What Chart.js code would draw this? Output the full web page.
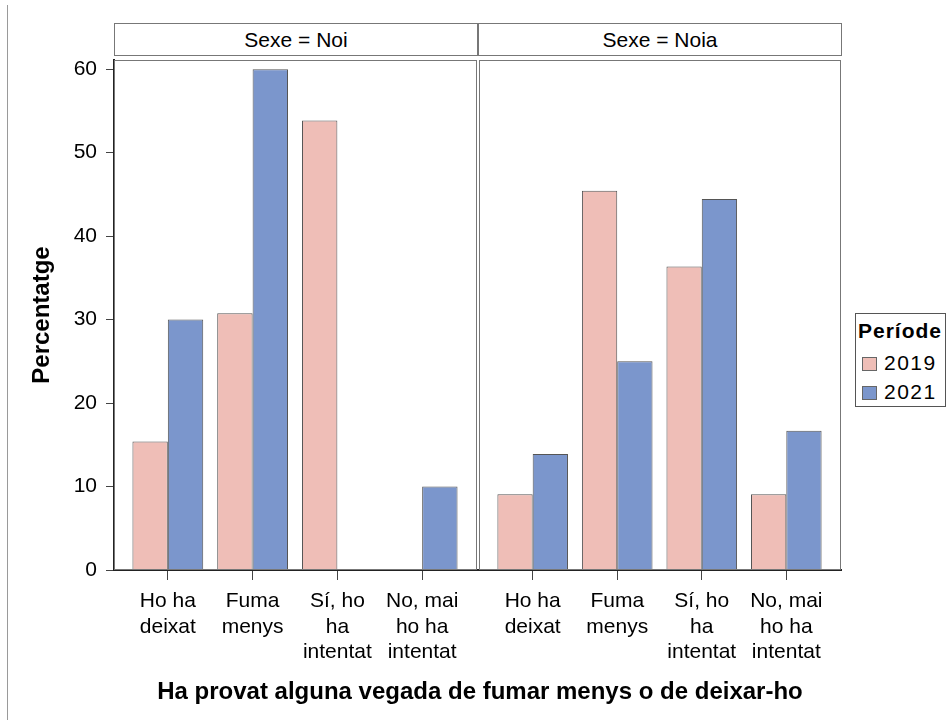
<!DOCTYPE html>
<html>
<head>
<meta charset="utf-8">
<script src="https://cdn.jsdelivr.net/npm/chart.js@4/dist/chart.umd.min.js"></script>
<style>
  body { margin: 0; background: #fff; font-family: "Liberation Sans", Arial, sans-serif; }
  #wrap { position: relative; width: 952px; height: 720px; overflow: hidden; }
  .edge { position: absolute; left: 7px; top: 5px; width: 1px; height: 715px; background: #9a9a9a; }
  .strip { position: absolute; top: 23px; height: 33px; border: 1px solid #777; box-sizing: border-box;
           text-align: center; font-size: 21px; line-height: 32px; color: #000; }
  .xtitle { position: absolute; left: 0; width: 960px; top: 677px; text-align: center;
            font-size: 24px; font-weight: bold; color: #000; }
  .legend { position: absolute; left: 855px; top: 313px; width: 91px; height: 94px;
            border: 1px solid #555; box-sizing: border-box; color: #000; }
  .legend .lt { position: absolute; left: 2px; top: 5px; font-size: 21px; font-weight: bold; letter-spacing: 1px; }
  .legend .it { position: absolute; left: 6px; font-size: 21px; letter-spacing: 1.5px; }
  .legend .sw { display: inline-block; width: 13px; height: 12px; border: 1px solid #666;
                vertical-align: -1px; margin-right: 7px; }
  canvas { position: absolute; top: 0; }
</style>
</head>
<body>
<div id="wrap">
  <div class="edge"></div>
  <div class="strip" style="left:114px;width:364px;">Sexe = Noi</div>
  <div class="strip" style="left:478px;width:364px;">Sexe = Noia</div>
  <canvas id="chartNoi" width="478" height="720" style="left:0;width:478px;height:720px;"></canvas>
  <canvas id="chartNoia" width="380" height="720" style="left:470px;width:380px;height:720px;"></canvas>
  <div class="legend" id="legendBox"></div>
  <div class="xtitle">Ha provat alguna vegada de fumar menys o de deixar-ho</div>
</div>
<script>
// Categories (eix x) i valors en percentatge per període
var categories = [
    ['Ho ha', 'deixat'],
    ['Fuma', 'menys'],
    ['Sí, ho', 'ha', 'intentat'],
    ['No, mai', 'ho ha', 'intentat']
];
var periods = ['2019', '2021'];
var colors = ['#efbeb7', '#7b96cc'];

var noi2019 = [15.38, 30.77, 53.85, 0];
var noi2021 = [30, 60, 0, 10];
var noia2019 = [9.09, 45.45, 36.36, 9.09];
var noia2021 = [13.89, 25, 44.44, 16.67];

var yTicks = [0, 10, 20, 30, 40, 50, 60];
var xTicks = [1, 2, 3, 4];

// Marc del panell (vores superior i dreta incloses)
var panelFrame = {
    id: 'panelFrame',
    afterDraw: function (chart) {
        var a = chart.chartArea;
        var ctx = chart.ctx;
        ctx.save();
        ctx.strokeStyle = '#777';
        ctx.lineWidth = 1;
        ctx.strokeRect(Math.round(a.left) + 0.5, Math.round(a.top) + 0.5,
            Math.round(a.right - a.left) - 1, Math.round(a.bottom - a.top) - 1);
        ctx.restore();
    }
};

function toPoints(values) {
    return values.map(function (v, i) { return {x: xTicks[i], y: v}; });
}

function makeChart(id, v2019, v2021, showY, pad) {
    return new Chart(document.getElementById(id), {
        type: 'bar',
        data: {
            datasets: [{
                label: periods[0],
                data: toPoints(v2019),
                backgroundColor: colors[0],
                borderColor: '#555',
                borderWidth: 1
            }, {
                label: periods[1],
                data: toPoints(v2021),
                backgroundColor: colors[1],
                borderColor: '#555',
                borderWidth: 1
            }]
        },
        options: {
            responsive: false,
            animation: false,
            layout: {padding: pad},
            datasets: {bar: {categoryPercentage: 0.835, barPercentage: 1}},
            plugins: {legend: {display: false}, tooltip: {enabled: false}},
            scales: {
                x: {
                    type: 'linear',
                    offset: false,
                    min: 0.365,
                    max: 4.647,
                    afterBuildTicks: function (scale) {
                        scale.ticks = xTicks.map(function (v) { return {value: v}; });
                    },
                    afterFit: function (scale) { scale.height = 150; },
                    grid: {offset: false, drawOnChartArea: false, tickLength: 10, color: '#444'},
                    border: {color: '#222', width: 2},
                    ticks: {
                        autoSkip: false,
                        maxRotation: 0,
                        padding: 9,
                        color: '#000',
                        font: {family: 'Liberation Sans', size: 21, lineHeight: 1.2},
                        callback: function (value) { return categories[value - 1]; }
                    }
                },
                y: {
                    display: showY,
                    min: 0,
                    max: 61.1,
                    afterBuildTicks: function (scale) {
                        scale.ticks = yTicks.map(function (v) { return {value: v}; });
                    },
                    afterFit: function (scale) { scale.width = showY ? 114 : 0; },
                    grid: {drawOnChartArea: false, tickLength: 8, color: '#444'},
                    border: {color: '#222', width: 2},
                    ticks: {
                        padding: 9,
                        color: '#000',
                        font: {family: 'Liberation Sans', size: 21}
                    },
                    title: {
                        display: true,
                        text: 'Percentatge',
                        color: '#000',
                        padding: {top: 28, bottom: 0},
                        font: {family: 'Liberation Sans', size: 24, weight: 'bold'}
                    }
                }
            }
        },
        plugins: [panelFrame]
    });
}

makeChart('chartNoi', noi2019, noi2021, true, {top: 60, right: 1, bottom: 0, left: 0});
makeChart('chartNoia', noia2019, noia2021, false, {top: 60, right: 9, bottom: 0, left: 9});

// Llegenda "Període"
var box = document.getElementById('legendBox');
var html = '<div class="lt">Període</div>';
periods.forEach(function (p, i) {
    html += '<div class="it" style="top:' + (37 + i * 29) + 'px"><span class="sw" style="background:' +
        colors[i] + '"></span>' + p + '</div>';
});
box.innerHTML = html;
</script>
</body>
</html>
